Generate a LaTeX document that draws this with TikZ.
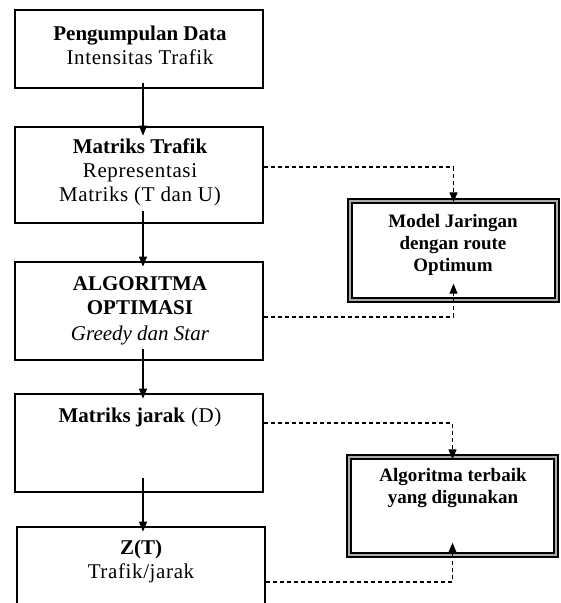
\documentclass[tikz,border=0pt]{standalone}
\usepackage{fontspec}
\setmainfont{Liberation Serif}[LetterSpace=3,BoldFeatures={LetterSpace=0},ItalicFeatures={LetterSpace=0}]
\usetikzlibrary{arrows.meta}
\begin{document}
\begin{tikzpicture}[x=1pt,y=-1pt,
  kotak/.style={draw,line width=2.8pt,minimum width=248pt,inner sep=0pt},
  hasil/.style={draw,line width=1.3pt,double=gray!65,double distance=2.6pt,minimum width=207pt,minimum height=99pt,inner sep=0pt},
  teks/.style={align=center,font=\fontsize{21}{24}\selectfont,inner sep=0pt,anchor=base},
  teksk/.style={teks,font=\fontsize{19}{22}\selectfont\bfseries},
  panah/.style={-{Triangle[length=10pt,width=8pt]},line width=1.1pt},
  putus/.style={panah,dash pattern=on 4pt off 3pt}]
\clip (0,0) rectangle (561,603);
\node [kotak,minimum height=78pt] (pd) at (139,49) {};
\node [kotak,minimum height=96pt] (mt) at (139,175) {};
\node [kotak,minimum height=98pt] (ao) at (139,311) {};
\node [kotak,minimum height=98pt] (mj) at (139,443) {};
\node [kotak,minimum height=100pt] (zt) at (141,577) {};
\node [hasil] (mjr) at (453.5,250.5) {};
\node [hasil,minimum height=98pt] (at) at (452.5,506) {};
\node [teks] (pd-t) at (140,64) {\textbf{Pengumpulan Data}\\Intensitas Trafik};
\node [teks] (mt-t) at (140,201) {\textbf{Matriks Trafik}\\Representasi\\Matriks (T dan U)};
\node [teks] (ao-t) at (140,340) {\textbf{ALGORITMA}\\\textbf{OPTIMASI}\\[2pt]\textit{Greedy dan Star}};
\node [teks] (mj-t) at (140,422) {\textbf{Matriks jarak} (D)};
\node [teks] (zt-t) at (141,578) {\textbf{Z(T)}\\Trafik/jarak};
\node [teksk] (mjr-t) at (453,271) {Model Jaringan\\dengan route\\Optimum};
\node [teksk] (at-t) at (453,503) {Algoritma terbaik\\yang digunakan};
\draw [panah] ([xshift=4pt,yshift=6pt]pd.south) -- ([xshift=4pt,yshift=-10pt]mt.north);
\draw [panah] ([xshift=4pt,yshift=13pt]mt.south) -- ([xshift=4pt,yshift=-6pt]ao.north);
\draw [panah] ([xshift=4pt,yshift=12pt]ao.south) -- ([xshift=4pt,yshift=-6pt]mj.north);
\draw [panah] ([xshift=4pt,yshift=15pt]mj.south) -- ([xshift=2pt,yshift=-6pt]zt.north);
\draw [putus] (mt.east |- 0,167) -| ([yshift=-2pt]mjr.north);
\draw [putus] (ao.east |- 0,317) -| ([yshift=17pt]mjr.south);
\draw [putus] (mj.east |- 0,423) -| ([yshift=-3pt]at.north);
\draw [putus] (zt.east |- 0,582) -| ([yshift=13pt]at.south);
\end{tikzpicture}
\end{document}
